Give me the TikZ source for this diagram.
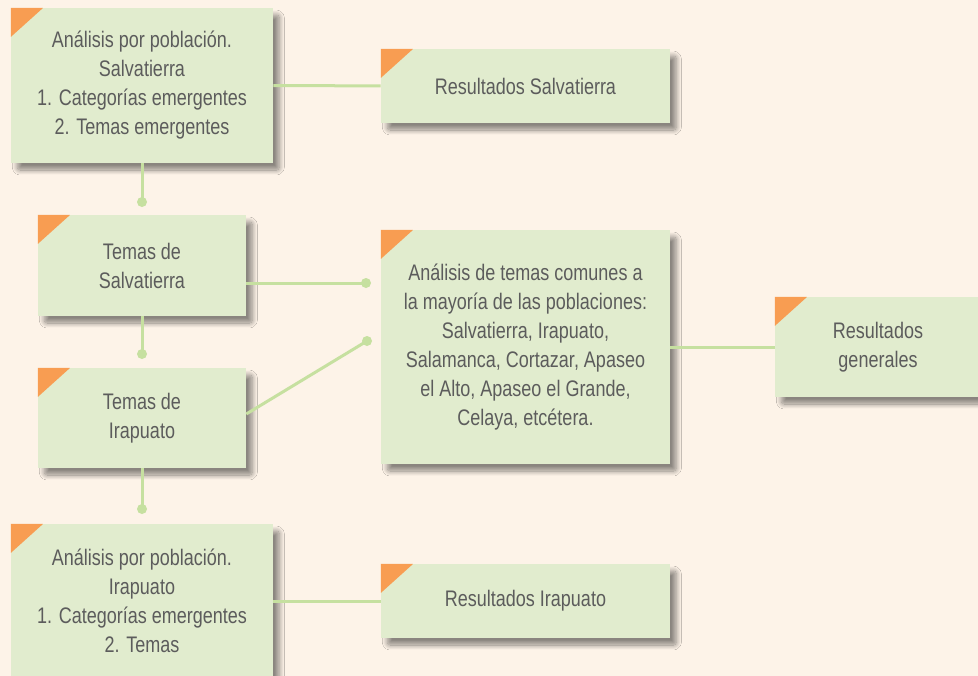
\documentclass[tikz,border=0pt]{standalone}
\usepackage{fontspec}
\setmainfont[FakeStretch=0.8]{Liberation Sans}
\usetikzlibrary{positioning, calc, shadows.blur}
\definecolor{fondo}{HTML}{FDF3E8}
\definecolor{cajafill}{HTML}{E1ECCE}
\definecolor{esquina}{HTML}{F89D52}
\definecolor{enlace}{HTML}{C6E0A0}
\definecolor{texto}{HTML}{5C5C5C}
\tikzset{
  caja/.style   = {fill=cajafill, inner sep=0pt, align=center, text=texto,
                   font=\fontsize{16}{20.6}\selectfont,
                   blur shadow={shadow xshift=4.5pt, shadow yshift=-5pt,
                                shadow blur radius=3.5pt, shadow blur steps=14,
                                shadow blur extra rounding=2pt, shadow opacity=45},
                   path picture={\fill[esquina] (path picture bounding box.north west)
                     -- ++(0.8cm,0) -- ++(-0.8cm,-0.72cm) -- cycle;}},
  ancha/.style  = {caja, minimum width=6.55cm},
  media/.style  = {caja, minimum width=5.2cm},
  larga/.style  = {caja, minimum width=7.225cm},
  punto/.style  = {circle, fill=enlace, inner sep=0pt, minimum size=0.25cm},
  lin/.style    = {draw=enlace, line width=0.075cm},
}

\begin{document}
\begin{tikzpicture}[x=0.025cm, y=-0.025cm]

% fondo
\fill[fondo] (0,0) rectangle (978,676);
\useasboundingbox (0,0) rectangle (978,676);
\clip (0,0) rectangle (978,676);

% =========================================================================
% Salvatierra
% =========================================================================
\node[ancha, minimum height=3.875cm] (anaS) at (142,85.5)
  {Análisis por población.\\Salvatierra\\1. Categorías emergentes\\2. Temas emergentes};
\node[larga, minimum height=1.85cm] (resS) at (525.5,86) {Resultados Salvatierra};
\node[media, minimum height=2.525cm] (temS) at (142,265.5) {Temas de\\Salvatierra};

% =========================================================================
% Irapuato
% =========================================================================
\node[media, minimum height=2.5cm] (temI) at (142,418) {Temas de\\Irapuato};
\node[ancha, minimum height=3.85cm] (anaI) at (142,601)
  {Análisis por población.\\Irapuato\\1. Categorías emergentes\\2. Temas};
\node[larga, minimum height=1.85cm] (resI) at (525.5,601) {Resultados Irapuato};

% =========================================================================
% Comunes
% =========================================================================
\node[larga, minimum height=5.85cm] (comun) at (525.5,347)
  {Análisis de temas comunes a\\la mayoría de las poblaciones:\\Salvatierra, Irapuato,\\Salamanca, Cortazar, Apaseo\\el Alto, Apaseo el Grande,\\Celaya, etcétera.};
\node[caja, minimum width=5.15cm, minimum height=2.5cm] (resG) at (878,347)
  {Resultados\\generales};

% puntos
\node[punto] (p1) at (142,202) {};
\node[punto] (p2) at (366,283) {};
\node[punto] (p3) at (367,341) {};
\node[punto] (p4) at (142,354) {};
\node[punto] (p5) at (142,509) {};

% enlaces
\draw[lin] (anaS) -- (resS);
\draw[lin] (anaS.south) -- (p1.center);
\draw[lin] (p2.center -| temS.east) -- (p2.center);
\draw[lin] ($(temI.east)+(0,-4)$) -- (p3.center);
\draw[lin] (temS.south) -- (p4.center);
\draw[lin] (temI.south) -- (p5.center);
\draw[lin] (comun) -- (resG);
\draw[lin] (anaI) -- (resI);

\end{tikzpicture}
\end{document}
